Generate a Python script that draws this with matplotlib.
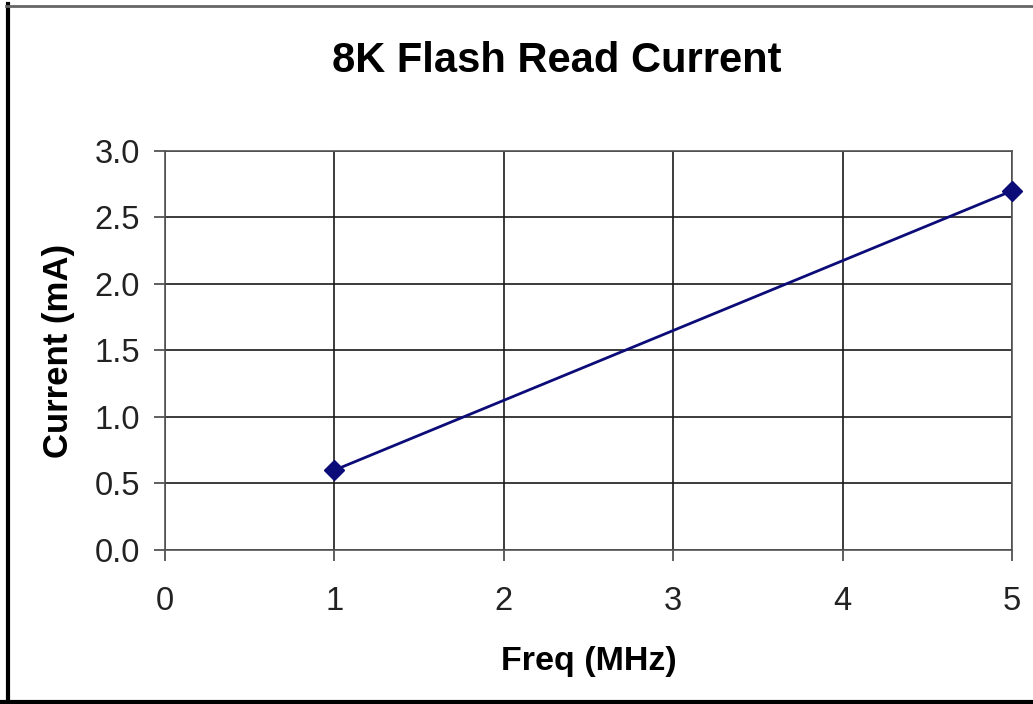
import matplotlib
matplotlib.use("Agg")
import matplotlib.pyplot as plt
from matplotlib.lines import Line2D

# 8K flash read current vs. clock frequency
freq_mhz = [1, 5]
current_ma = [0.6, 2.7]

x_ticks = [0, 1, 2, 3, 4, 5]
y_ticks = [0.0, 0.5, 1.0, 1.5, 2.0, 2.5, 3.0]

plt.rcParams['font.family'] = ['Liberation Sans', 'DejaVu Sans']

fig = plt.figure(figsize=(10.33, 7.04), dpi=100)
ax = fig.add_axes([0.1597, 0.2188, 0.8200, 0.5668])

ax.plot(freq_mhz, current_ma, color='#0c0c78', linewidth=2,
        marker='D', markersize=10, markerfacecolor='#0c0c78',
        markeredgecolor='#0c0c78', zorder=5, clip_on=False)

ax.set_xlim(0, 5)
ax.set_ylim(0, 3)
ax.set_xticks(x_ticks)
ax.set_yticks(y_ticks)
ax.set_xticklabels([str(v) for v in x_ticks])
ax.set_yticklabels(['%.1f' % v for v in y_ticks])
ax.grid(True, color='#1a1a1a', linewidth=1.2)
ax.set_axisbelow(True)

for side in ['left', 'bottom', 'top', 'right']:
    ax.spines[side].set_color('#555555')
    ax.spines[side].set_linewidth(1.2)
ax.tick_params(axis='both', direction='out', length=8, width=1.2,
               color='#444444', labelsize=23.5, labelcolor='#222222')
ax.tick_params(axis='x', pad=18)
ax.tick_params(axis='y', pad=10)

ax.set_xlabel('Freq (MHz)', fontsize=24.5, fontweight='bold', labelpad=21)
ax.set_ylabel('Current (mA)', fontsize=25, fontweight='bold', labelpad=14)
fig.text(0.539, 0.913, '8K Flash Read Current', ha='center', va='center',
         fontsize=30, fontweight='bold')

# outer frame: heavy left and bottom edges, thin grey top
fig.add_artist(Line2D([0.0073, 0.0073], [0.0, 0.995], transform=fig.transFigure,
                      color='black', linewidth=3))
fig.add_artist(Line2D([0.0, 1.0], [0.0028, 0.0028], transform=fig.transFigure,
                      color='black', linewidth=3))
fig.add_artist(Line2D([0.006, 1.0], [0.9915, 0.9915], transform=fig.transFigure,
                      color='#666666', linewidth=2))

fig.savefig('out.png', dpi=100)
